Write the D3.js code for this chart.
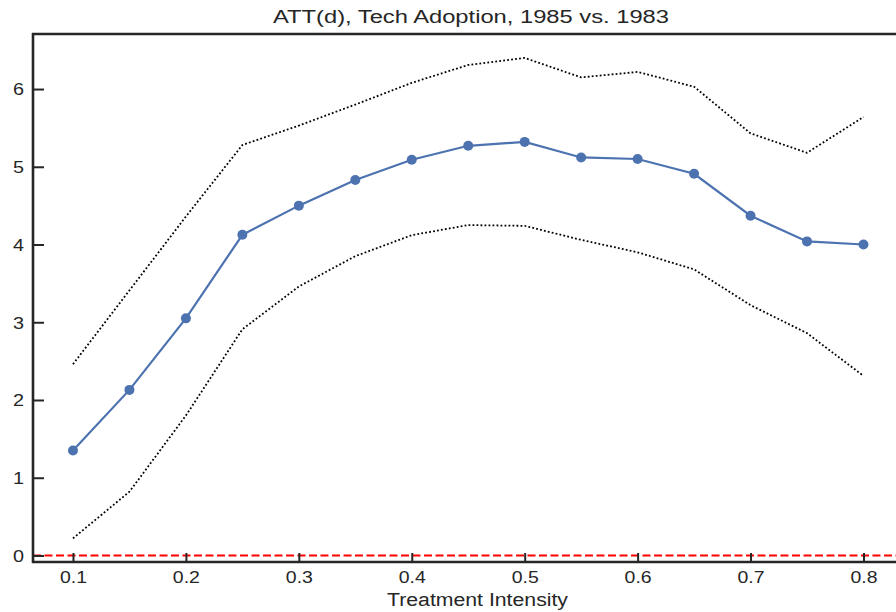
<!DOCTYPE html>
<html>
<head>
<meta charset="utf-8">
<script src="https://cdn.jsdelivr.net/npm/d3@7"></script>
<style>
  html, body { margin: 0; padding: 0; background: #fff; }
  svg { display: block; font-family: "Liberation Sans", Arial, sans-serif; }
</style>
</head>
<body>
<svg id="chart" width="896" height="612"></svg>
<script>
const dose = [0.1, 0.15, 0.2, 0.25, 0.3, 0.35, 0.4, 0.45, 0.5, 0.55, 0.6, 0.65, 0.7, 0.75, 0.8];
const att = [1.35, 2.13, 3.05, 4.125, 4.50, 4.83, 5.09, 5.27, 5.32, 5.12, 5.10, 4.91, 4.37, 4.04, 4.00];
const upper = [2.46, 3.41, 4.36, 5.28, 5.53, 5.80, 6.08, 6.31, 6.40, 6.15, 6.22, 6.03, 5.43, 5.18, 5.64];
const lower = [0.22, 0.82, 1.80, 2.91, 3.46, 3.85, 4.12, 4.25, 4.24, 4.06, 3.90, 3.68, 3.22, 2.86, 2.31];
const xTicks = [0.1, 0.2, 0.3, 0.4, 0.5, 0.6, 0.7, 0.8];
const yTicks = [0, 1, 2, 3, 4, 5, 6];
const title = "ATT(d), Tech Adoption, 1985 vs. 1983";
const xLabel = "Treatment Intensity";

const svg = d3.select("#chart");
const L = 33, R = 903, T = 34, B = 562;
const x = d3.scaleLinear().domain([0.0646, 0.835]).range([L, R]);
const y = d3.scaleLinear().domain([-0.084, 6.708]).range([B, T]);
const ink = "#262626";

// stretch text horizontally to match the reference's wide lettering
function widen(sel, factor) {
  sel.each(function () {
    const w = this.getComputedTextLength();
    d3.select(this).attr("textLength", w * factor).attr("lengthAdjust", "spacingAndGlyphs");
  });
}

// zero reference line
svg.append("line")
  .attr("x1", L).attr("x2", R)
  .attr("y1", y(0)).attr("y2", y(0))
  .attr("stroke", "#ff0000").attr("stroke-width", 2)
  .attr("stroke-dasharray", "8 3.5");

const line = (vals) => d3.line().x((d, i) => x(dose[i])).y(d => y(d))(vals);

[upper, lower].forEach(v => {
  svg.append("path").attr("d", line(v))
    .attr("fill", "none").attr("stroke", "#000")
    .attr("stroke-width", 1.8).attr("stroke-dasharray", "1.8 2.2");
});

svg.append("path").attr("d", line(att))
  .attr("fill", "none").attr("stroke", "#4c72b0").attr("stroke-width", 2.2);

svg.selectAll("circle.pt").data(att).enter().append("circle")
  .attr("class", "pt")
  .attr("cx", (d, i) => x(dose[i])).attr("cy", d => y(d))
  .attr("r", 5).attr("fill", "#4c72b0");

// axes
const xAxis = d3.axisBottom(x).tickValues(xTicks).tickFormat(d3.format(".1f"))
  .tickSizeInner(-9).tickSizeOuter(0).tickPadding(9);
const gx = svg.append("g").attr("transform", `translate(0,${B})`).call(xAxis);
const yAxis = d3.axisLeft(y).tickValues(yTicks).tickFormat(d3.format("d"))
  .tickSizeInner(-11).tickSizeOuter(0).tickPadding(9);
const gy = svg.append("g").attr("transform", `translate(${L},0)`).call(yAxis);

[gx, gy].forEach(g => {
  g.select(".domain").remove();
  g.selectAll(".tick line").attr("stroke", ink).attr("stroke-width", 2);
  g.selectAll(".tick text").attr("fill", ink).attr("font-size", 16.5)
    .attr("font-family", "'Liberation Sans', Arial, sans-serif");
});
gx.selectAll(".tick text").attr("y", 21).attr("dy", 0);
gy.selectAll(".tick text").attr("dy", "0.36em");
widen(gx.selectAll(".tick text"), 1.18);
widen(gy.selectAll(".tick text"), 1.2);

// spines
svg.append("line").attr("x1", L).attr("x2", L).attr("y1", T - 1).attr("y2", B + 1)
  .attr("stroke", ink).attr("stroke-width", 2.6);
svg.append("line").attr("x1", L - 1).attr("x2", R + 1).attr("y1", B).attr("y2", B)
  .attr("stroke", ink).attr("stroke-width", 2.6);
svg.append("line").attr("x1", L - 1).attr("x2", R + 1).attr("y1", T).attr("y2", T)
  .attr("stroke", ink).attr("stroke-width", 2.6);

const tt = svg.append("text").attr("x", 471).attr("y", 22.5)
  .attr("text-anchor", "middle").attr("font-size", 17.5).attr("fill", ink)
  .text(title);
tt.attr("textLength", 396).attr("lengthAdjust", "spacingAndGlyphs");

const xl = svg.append("text").attr("x", 477.5).attr("y", 606)
  .attr("text-anchor", "middle").attr("font-size", 18).attr("fill", ink)
  .text(xLabel);
xl.attr("textLength", 181).attr("lengthAdjust", "spacingAndGlyphs");
</script>
</body>
</html>
